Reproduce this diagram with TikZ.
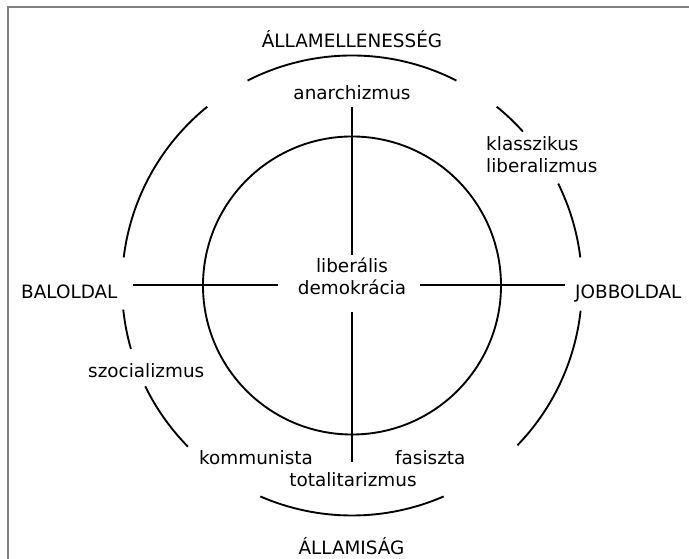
\documentclass[tikz,border=0pt]{standalone}
\usepackage{fontspec}
\setmainfont{DejaVu Sans}
\usetikzlibrary{positioning}

\begin{document}
\begin{tikzpicture}[x=0.03cm,y=0.03cm,
  lbl/.style={font=\fontsize{15.7}{18.8}\selectfont,inner sep=0pt},
  ring/.style={line width=1.6pt}]
\useasboundingbox (0,0) rectangle (689,559);
\draw[gray,line width=1.5pt] (8,0) -- (8,552) -- (689,552);

\coordinate (C) at (352,273.5);
\draw[ring] (C) circle (4.47cm);
\foreach \a/\b in {63/117,129/173,186/196,206/224.5,246.5/293.5,316/353.7,7/26.3,42/51}
  \draw[ring] (C) ++(\a:6.9cm) arc (\a:\b:6.9cm);

\node[lbl,anchor=base] (anti) at (352,511) {ÁLLAMELLENESSÉG};
\node[lbl,anchor=base] (anar) at (352,459) {anarchizmus};
\node[lbl,anchor=north west,align=left] (klas) at (486,423) {klasszikus\\liberalizmus};
\node[lbl,anchor=base west] (left) at (21,260) {BALOLDAL};
\node[lbl,anchor=base west] (right) at (575,260) {JOBBOLDAL};
\node[lbl,anchor=north,align=center] (dem) at (352,301.5) {liberális\\demokrácia};
\node[lbl,anchor=base west] (szoc) at (88,181) {szocializmus};
\node[lbl,anchor=base west] (komm) at (199,94) {kommunista};
\node[lbl,anchor=base west] (fas) at (395,94) {fasiszta};
\node[lbl,anchor=base] (tot) at (353,72) {totalitarizmus};
\node[lbl,anchor=base] (state) at (351.5,4) {ÁLLAMISÁG};

% tengelyek
\coordinate (axL) at (133,274);
\coordinate (axR) at (565,274);
\coordinate (axT) at (352,452);
\coordinate (axB) at (352,97);
\draw[ring] (axL) -- ([xshift=-0.6cm]dem.west |- axL);
\draw[ring] ([xshift=0.42cm]dem.east |- axR) -- (axR);
\draw[ring] (axT) -- ([yshift=0.06cm]dem.north);
\draw[ring] ([yshift=-0.51cm]dem.south) -- (axB);

\end{tikzpicture}
\end{document}
